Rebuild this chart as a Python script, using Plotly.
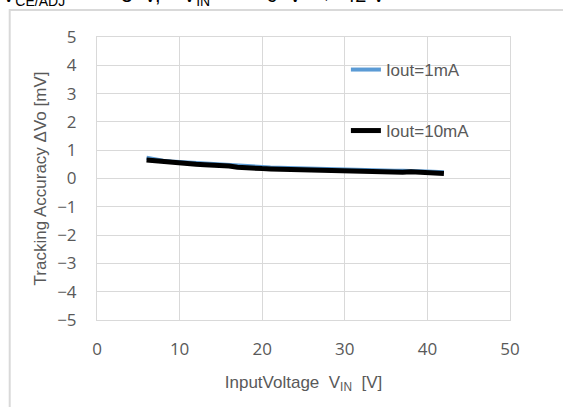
import plotly.graph_objects as go

# Data
vin = [6, 7, 8, 9, 10, 11, 12, 13, 14, 15, 16, 17, 18, 19, 20, 21, 22, 23, 24,
       25, 26, 27, 28, 29, 30, 31, 32, 33, 34, 35, 36, 37, 38, 39, 40, 41, 42]
acc_1mA = [0.73, 0.67, 0.63, 0.60, 0.58, 0.56, 0.54, 0.53, 0.52, 0.50, 0.48, 0.45,
           0.42, 0.41, 0.40, 0.39, 0.38, 0.37, 0.37, 0.36, 0.35, 0.34, 0.33, 0.32,
           0.31, 0.30, 0.29, 0.29, 0.29, 0.28, 0.27, 0.27, 0.28, 0.26, 0.25, 0.23, 0.22]
acc_10mA = [0.65, 0.62, 0.59, 0.56, 0.54, 0.52, 0.50, 0.49, 0.48, 0.46, 0.44, 0.40,
            0.37, 0.36, 0.35, 0.34, 0.33, 0.32, 0.32, 0.31, 0.31, 0.30, 0.29, 0.28,
            0.26, 0.25, 0.25, 0.24, 0.25, 0.24, 0.23, 0.22, 0.24, 0.22, 0.22, 0.20, 0.18]

x_ticks = [0, 10, 20, 30, 40, 50]
y_ticks = [5, 4, 3, 2, 1, 0, -1, -2, -3, -4, -5]

GRID = "#d9d9d9"
TXT = "#595959"
FONT = "Liberation Sans, Arial, sans-serif"
TICKFONT = "Open Sans, sans-serif"

fig = go.Figure()
fig.add_trace(go.Scatter(x=vin, y=acc_1mA, mode="lines", name="Iout=1mA",
                         line=dict(color="#5b9bd5", width=4), legend="legend",
                         showlegend=True))
fig.add_trace(go.Scatter(x=vin, y=acc_10mA, mode="lines", name="Iout=10mA",
                         line=dict(color="#000000", width=5), legend="legend2",
                         showlegend=True))

W, H = 563, 407
L, R, T, B = 96.5, 52.5, 37, 87
pw, ph = W - L - R, H - T - B

def px(xp):
    return (xp - L) / pw

def py(yp):
    return (H - B - yp) / ph

NB = "\u00a0"
title_txt = (f"V<sub>CE/ADJ</sub>{NB*5}={NB*3}3{NB*2}V,{NB*4}V<sub>IN</sub>{NB*3}="
             f"{NB*5}6{NB*2}V{NB*2}→{NB*2}42{NB}V")

fig.update_layout(
    width=W, height=H,
    showlegend=True,
    margin=dict(l=L, r=R, t=T, b=B, pad=0, autoexpand=False),
    paper_bgcolor="white", plot_bgcolor="white",
    font=dict(family=FONT, size=17, color=TXT),
    legend=dict(x=px(346), y=py(70), xanchor="left", yanchor="middle",
                bgcolor="rgba(0,0,0,0)", font=dict(family=FONT, size=17, color=TXT),
                itemwidth=30, tracegroupgap=0),
    legend2=dict(x=px(346), y=py(131), xanchor="left", yanchor="middle",
                 bgcolor="rgba(0,0,0,0)", font=dict(family=FONT, size=17, color=TXT),
                 itemwidth=30, tracegroupgap=0),
    xaxis=dict(range=[0, 50], tickvals=x_ticks, showgrid=True, gridcolor=GRID,
               gridwidth=1, zeroline=False, showline=True, linecolor=GRID,
               linewidth=1, mirror=True, ticks="", ticklabelstandoff=14,
               tickfont=dict(family=TICKFONT, size=17, color=TXT),
               title=dict(text="InputVoltage  V<sub>IN</sub>  [V]", standoff=16,
                          font=dict(family=FONT, size=17, color=TXT))),
    yaxis=dict(range=[-5, 5], tickvals=y_ticks, showgrid=True, gridcolor=GRID,
               gridwidth=1, zeroline=False, showline=True, linecolor=GRID,
               linewidth=1, mirror=True, ticks="", ticklabelstandoff=16,
               tickfont=dict(family=TICKFONT, size=17, color=TXT),
               title=dict(text="Tracking Accuracy ΔVo [mV]", standoff=6,
                          font=dict(family=FONT, size=17, color=TXT))),
    shapes=[dict(type="rect", xref="paper", yref="paper",
                 x0=px(9), y0=py(450), x1=px(620), y1=py(10),
                 line=dict(color=GRID, width=2), fillcolor="rgba(0,0,0,0)")],
    annotations=[dict(text=title_txt,
                      xref="paper", yref="paper", x=px(-1), y=py(11),
                      xanchor="left", yanchor="bottom", showarrow=False,
                      font=dict(family=FONT, size=20, color="#000000"))],
)

fig.write_html("out.html", config={"displayModeBar": False},
               post_script="document.body.style.margin='0';document.body.style.overflow='hidden';")
